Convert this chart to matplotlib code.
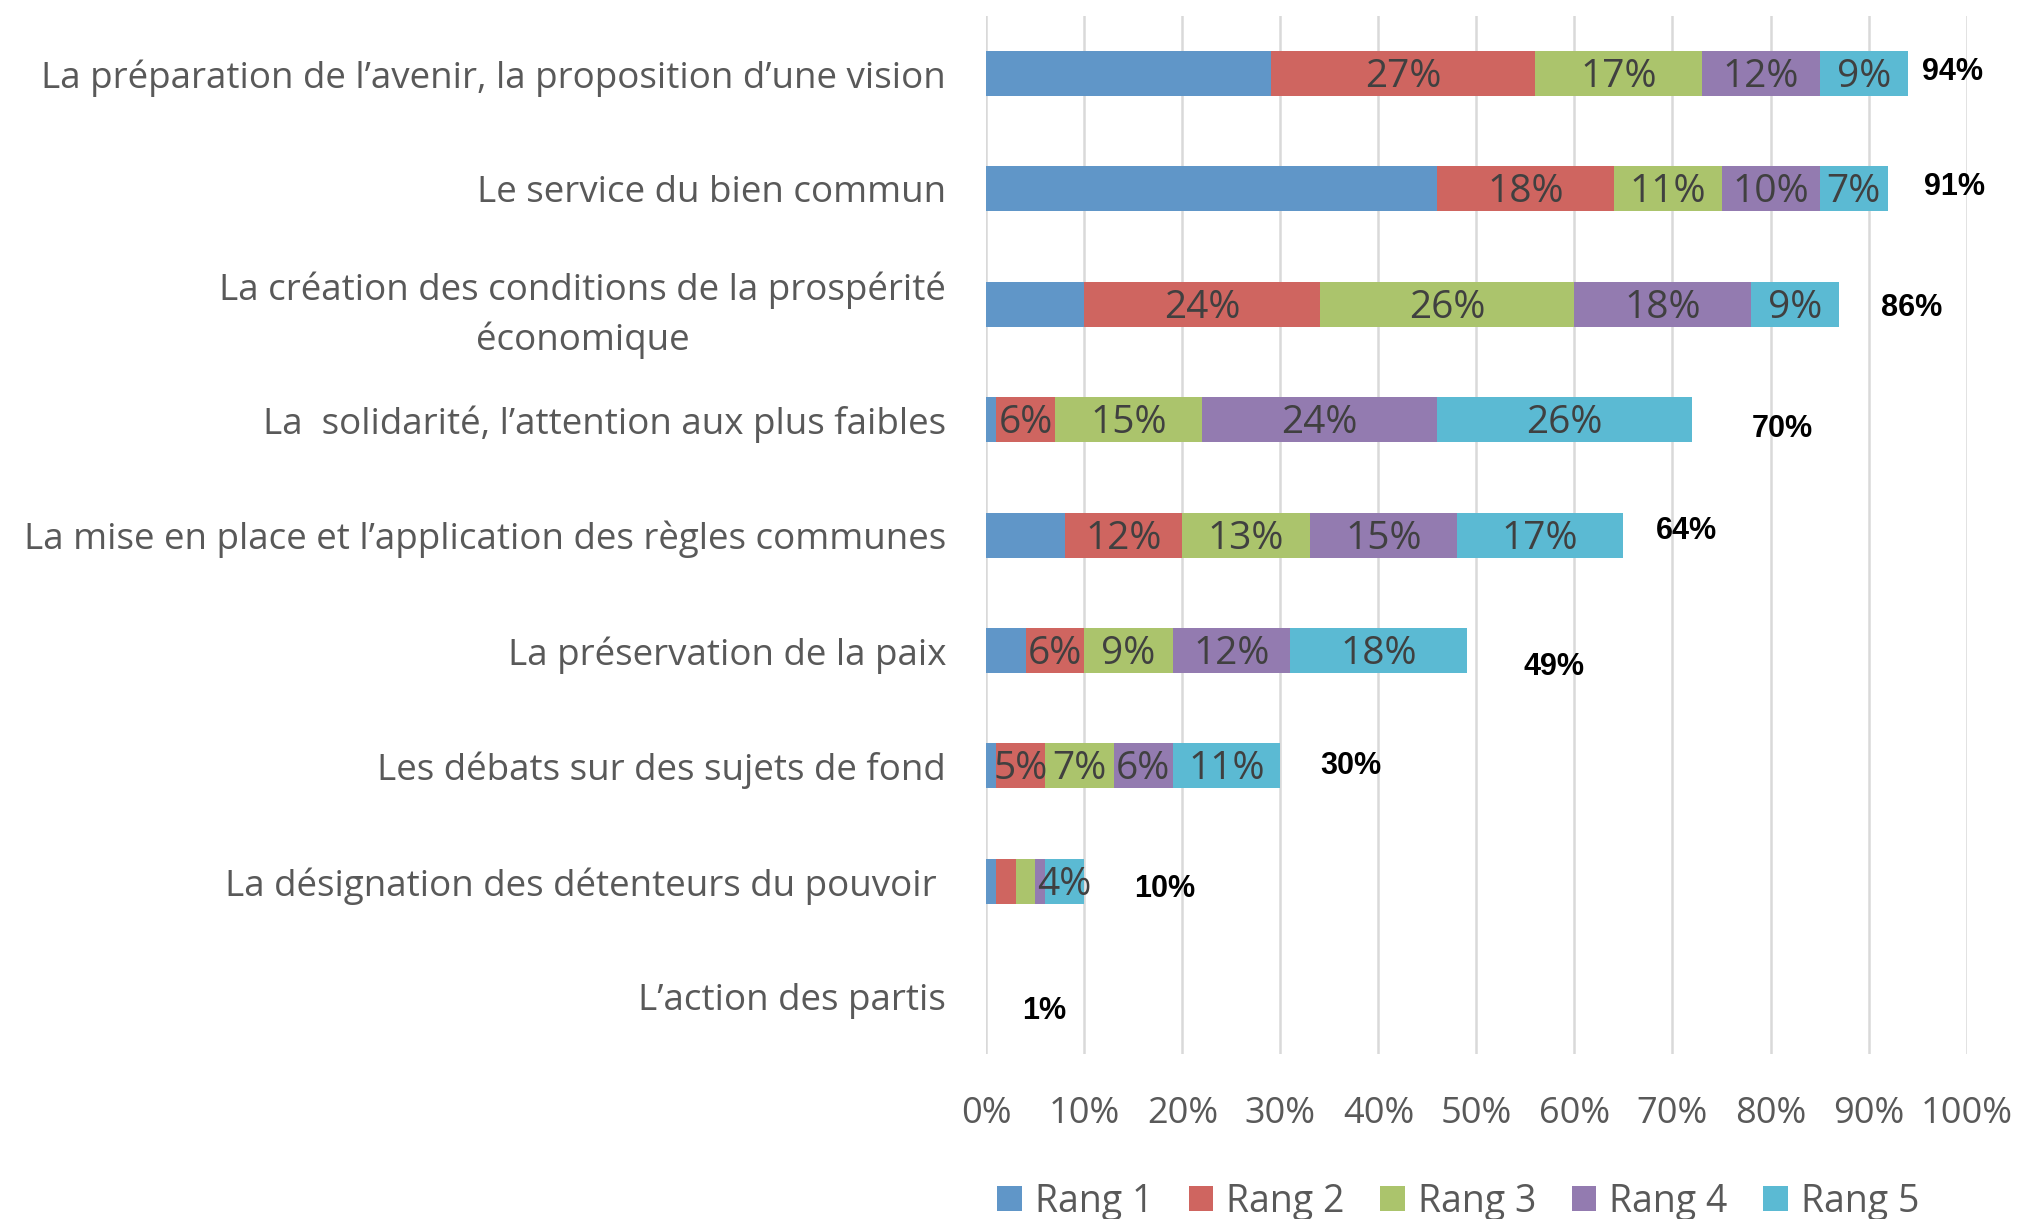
import matplotlib
matplotlib.use("Agg")
import matplotlib.pyplot as plt
import numpy as np

# données
categories = [
    "La préparation de l\u2019avenir, la proposition d\u2019une vision",
    "Le service du bien commun",
    "La création des conditions de la prospérité\néconomique",
    "La  solidarité, l\u2019attention aux plus faibles",
    "La mise en place et l\u2019application des règles communes",
    "La préservation de la paix",
    "Les débats sur des sujets de fond",
    "La désignation des détenteurs du pouvoir ",
    "L\u2019action des partis",
]
series_names = ["Rang 1", "Rang 2", "Rang 3", "Rang 4", "Rang 5"]
rang1 = [29, 46, 10, 1, 8, 4, 1, 1, 0]
rang2 = [27, 18, 24, 6, 12, 6, 5, 2, 0]
rang3 = [17, 11, 26, 15, 13, 9, 7, 2, 0]
rang4 = [12, 10, 18, 24, 15, 12, 6, 1, 0]
rang5 = [9, 7, 9, 26, 17, 18, 11, 4, 0]
totals = [94, 91, 86, 70, 64, 49, 30, 10, 1]

colors = ["#6096c8", "#cf6560", "#abc46c", "#937bb0", "#5bbad3"]
# décalage des étiquettes de total (zones de texte placées à la main)
total_dx = [4.6, 6.8, 7.4, 9.2, 6.4, 8.9, 7.2, 8.2, 5.9]
total_dy = [-0.01, -0.02, 0.03, 0.08, -0.04, 0.14, 0.0, 0.07, 0.12]

plt.rcParams['font.family'] = ['Open Sans', 'DejaVu Sans']

fig = plt.figure(figsize=(20.17, 12.19), dpi=100)
ax = fig.add_axes([0.489, 0.135, 0.486, 0.852])

data = np.array([rang1, rang2, rang3, rang4, rang5], dtype=float)
y = np.arange(len(categories))
left = np.zeros(len(categories))
for k, (name, vals) in enumerate(zip(series_names, data)):
    ax.barh(y, vals, left=left, height=0.39, color=colors[k],
            label=name, zorder=3)
    if k > 0:
        for i, v in enumerate(vals):
            if v >= 3:
                ax.text(left[i] + v / 2, y[i] + 0.03, f"{int(v)}%",
                        ha="center", va="center", fontsize=28,
                        color="#404040", zorder=4)
    left += vals

for i, t in enumerate(totals):
    ax.text(left[i] + total_dx[i], y[i] + total_dy[i], f"{t}%",
            ha="center", va="center", fontsize=22, fontweight="bold",
            family=["Liberation Sans", "DejaVu Sans"], color="black")

ax.set_xlim(0, 100)
ax.set_ylim(len(categories) - 0.5, -0.5)
ax.set_xticks(np.arange(0, 101, 10))
ax.set_xticklabels([f"{v}%" for v in range(0, 101, 10)])
ax.set_yticks(y)
ax.set_yticklabels(categories, multialignment="center", linespacing=1.45)
ax.tick_params(axis="x", length=0, pad=30, labelsize=26, labelcolor="#595959")
ax.tick_params(axis="y", length=0, pad=29, labelsize=26.5, labelcolor="#595959")
for lab in ax.get_yticklabels():
    lab.set_y(lab.get_position()[1])
ax.grid(axis="x", color="#d9d9d9", linewidth=1.8, zorder=0)
for s in ax.spines.values():
    s.set_visible(False)

leg = fig.legend(loc="lower center", bbox_to_anchor=(0.723, -0.029), ncol=5,
                 frameon=False, fontsize=27, handlelength=0.65, handleheight=0.65,
                 handletextpad=0.35, columnspacing=0.95)
for txt in leg.get_texts():
    txt.set_color("#595959")

fig.savefig("out.png", dpi=100)
